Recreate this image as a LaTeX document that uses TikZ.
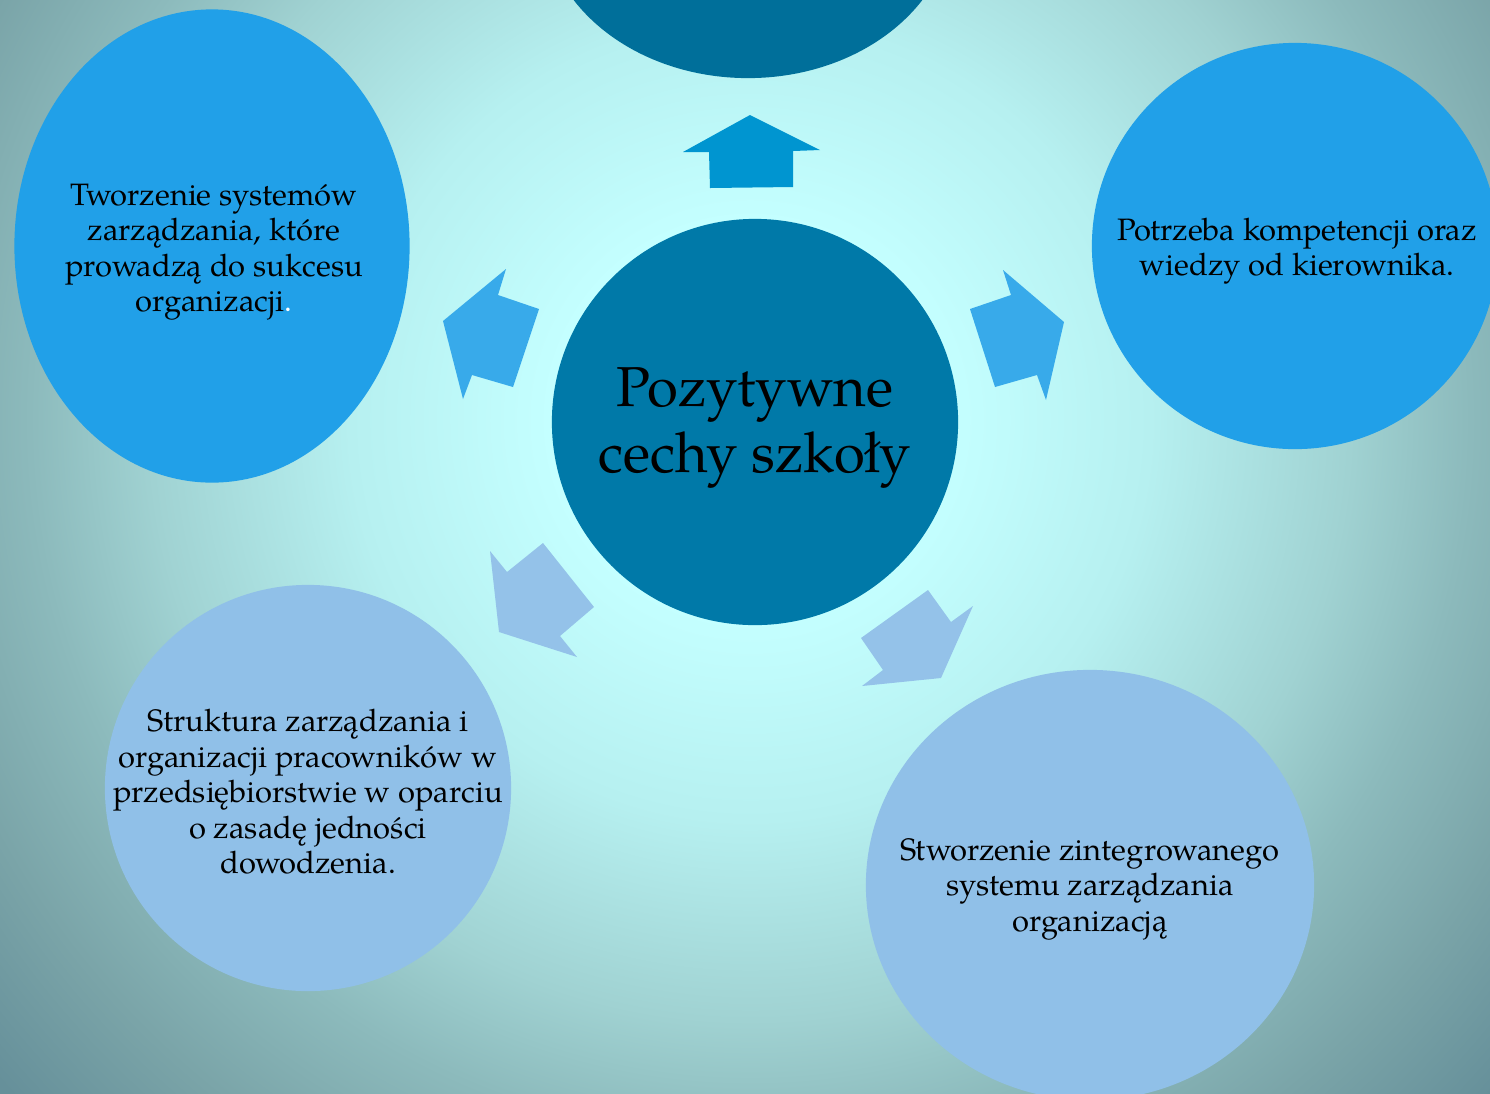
\documentclass[tikz,border=0pt]{standalone}
\usepackage{fontspec}
\setmainfont{texgyrepagella}[Extension=.otf, UprightFont=*-regular]
\usetikzlibrary{shapes.geometric}
\usepackage{xcolor}

\definecolor{glowin}{HTML}{C4FFFF}
\definecolor{glowa}{HTML}{B6F0F0}
\definecolor{glowb}{HTML}{A0D2D2}
\definecolor{glowc}{HTML}{8CBABC}
\definecolor{glowd}{HTML}{7AA4A8}
\definecolor{glowout}{HTML}{66909A}
\definecolor{hubblue}{HTML}{0079A8}
\definecolor{topblue}{HTML}{006F9A}
\definecolor{midblue}{HTML}{21A0E8}
\definecolor{paleblue}{HTML}{90C0E8}
\definecolor{uparrow}{HTML}{0095D0}
\definecolor{sidearrow}{HTML}{38AAEA}
\definecolor{lowarrow}{HTML}{94C2E9}

\pgfdeclareradialshading{bgglow}{\pgfpoint{0bp}{0bp}}{%
  color(0bp)=(glowin); color(5bp)=(glowin); color(10bp)=(glowa);
  color(15bp)=(glowb); color(18bp)=(glowc); color(21.5bp)=(glowd);
  color(25bp)=(glowout); color(50bp)=(glowout)}

\begin{document}
\begin{tikzpicture}[x=0.01cm,y=-0.01cm,
  bubble/.style={inner sep=0pt},
  caption/.style={inner sep=0pt, align=center, text=black,
    font=\fontsize{8.8}{10.1}\selectfont},
  hubcaption/.style={caption, font=\fontsize{16}{18.5}\selectfont}]
\useasboundingbox (0,0) rectangle (1490,1093);
\clip (0,0) rectangle (1490,1093);
% background glow
\shade[shading=bgglow] (-250,-580) rectangle (1750,1420);

% bubbles
\node[bubble, ellipse, minimum width=4.10cm, minimum height=3.30cm, fill=topblue] (top) at (748,-87) {};
\node[bubble, ellipse, minimum width=3.95cm, minimum height=4.73cm, fill=midblue] (lft) at (212,246) {};
\node[bubble, circle, minimum size=4.06cm, fill=midblue] (rgt) at (1295,246) {};
\node[bubble, circle, minimum size=4.06cm, fill=paleblue] (lowl) at (308,788) {};
\node[bubble, ellipse, minimum width=4.48cm, minimum height=4.30cm, fill=paleblue] (lowr) at (1090,885) {};
\node[bubble, circle, minimum size=4.06cm, fill=hubblue] (hub) at (755,422) {};

% texts
\node[hubcaption] (hubtext) at (755,428) {Pozytywne\\cechy szkoły};
\node[caption] (lfttext) at (214,252)
  {Tworzenie systemów\\zarządzania, które\\prowadzą do sukcesu\\organizacji\textcolor{white}{.}};
\node[caption] (rgttext) at (1297,251) {Potrzeba kompetencji oraz\\wiedzy od kierownika.};
\node[caption] (lowltext) at (308,792)
  {Struktura zarządzania i\\organizacji pracowników w\\przedsiębiorstwie w oparciu\\o zasadę jedności\\dowodzenia.};
\node[caption] (lowrtext) at (1090,889) {Stworzenie zintegrowanego\\systemu zarządzania\\organizacją};

% arrows
\fill[uparrow] (750,115) -- (820,150) -- (793,151) -- (793,187) -- (710,188) -- (709,152) -- (683,152) -- cycle;
\fill[sidearrow] (443,321) -- (506,269) -- (498,295) -- (539,309) -- (513,387) -- (472,375) -- (463,399) -- cycle;
\fill[sidearrow] (1064,322) -- (1003,270) -- (1011,295) -- (970,309) -- (995,387) -- (1037,375) -- (1046,400) -- cycle;
\fill[lowarrow] (499,632) -- (490,551) -- (507,572) -- (543,543) -- (594,607) -- (560,636) -- (577,657) -- cycle;
\fill[lowarrow] (862,686) -- (883,670) -- (861,638) -- (928,590) -- (951,622) -- (973,606) -- (941,678) -- cycle;

\end{tikzpicture}
\end{document}
